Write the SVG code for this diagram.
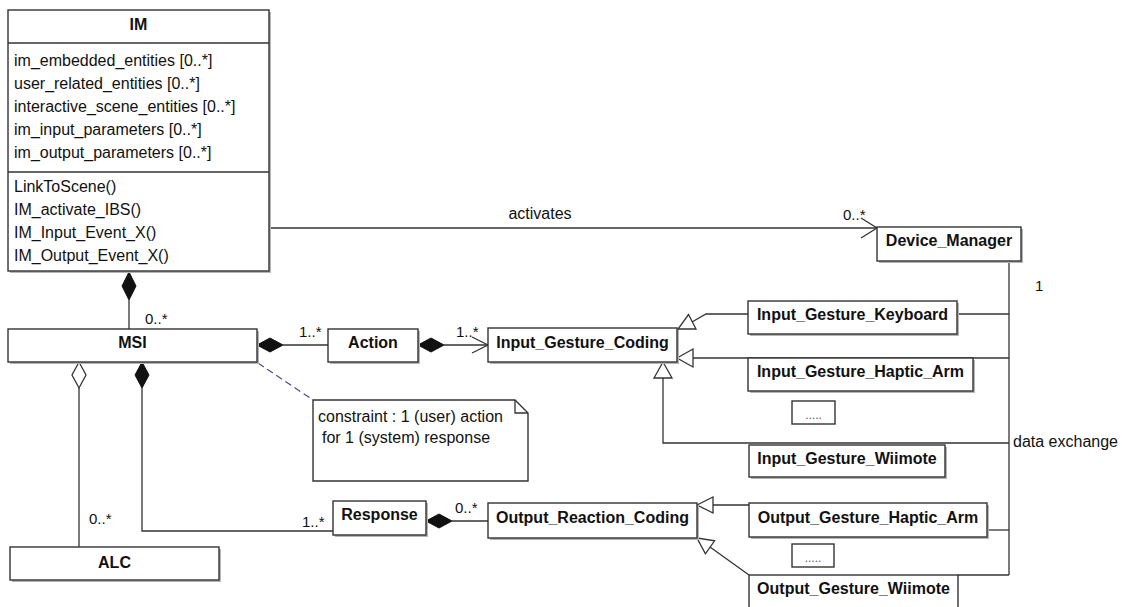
<svg xmlns="http://www.w3.org/2000/svg" width="1122" height="607" viewBox="0 0 1122 607">
<style>
text{font-family:"Liberation Sans",Arial,sans-serif;fill:#111}
.t{font-size:16px}
.b{font-size:16px;font-weight:bold}
.m{font-size:15px}
.sm{font-size:12px;fill:#555}
.box{fill:#fff;stroke:#333;stroke-width:1.4}
.sh{fill:#b5b5b5}
.ln{fill:none;stroke:#333;stroke-width:1.3}
.fd{fill:#111;stroke:#111;stroke-width:1}
.hd{fill:#fff;stroke:#333;stroke-width:1.3}
.dash{fill:none;stroke:#4a4a90;stroke-width:1.2;stroke-dasharray:7 4}
</style>
<rect width="1122" height="607" fill="#fff"/>

<g id="connectors">
  <line class="ln" x1="269" y1="228" x2="877" y2="228"/>
  <polyline class="ln" points="861,218 877,228 861,238"/>
  <line class="ln" x1="129" y1="300" x2="129" y2="329"/>
  <polygon class="fd" points="129,272 136,286 129,300 122,286"/>
  <line class="ln" x1="283" y1="345" x2="328" y2="345"/>
  <polygon class="fd" points="257,345 270,338 283,345 270,352"/>
  <line class="ln" x1="444" y1="345" x2="488" y2="345"/>
  <polygon class="fd" points="418,345 431,338 444,345 431,352"/>
  <polyline class="ln" points="472,337 488,345 472,353"/>
  <line class="ln" x1="79" y1="388" x2="79" y2="547"/>
  <polygon class="hd" points="79,362 86,375 79,388 72,375"/>
  <polyline class="ln" points="142,388 142,531 333,531"/>
  <polygon class="fd" points="142,362 149,375 142,388 135,375"/>
  <line class="ln" x1="452" y1="521" x2="488" y2="521"/>
  <polygon class="fd" points="426,521 439,514 452,521 439,528"/>
  <line class="dash" x1="258" y1="363" x2="313" y2="400"/>
  <polyline class="ln" points="748,314 706,314 692,322"/>
  <polygon class="hd" points="678,329 696,329 688.5,314.5"/>
  <line class="ln" x1="693" y1="358" x2="1009" y2="358"/>
  <polygon class="hd" points="677,358 693,349 693,367"/>
  <polyline class="ln" points="663,378 663,443 1009,443"/>
  <polygon class="hd" points="663,362 654,378 672,378"/>
  <line class="ln" x1="713" y1="505" x2="749" y2="505"/>
  <polygon class="hd" points="697,505 713,497 713,513"/>
  <line class="ln" x1="749" y1="575" x2="710" y2="547"/>
  <polygon class="hd" points="697,538 714.6,540.8 705.4,553.8"/>
  <line class="ln" x1="1009" y1="261" x2="1009" y2="575"/>
  <line class="ln" x1="957" y1="314" x2="1009" y2="314"/>
  <line class="ln" x1="987" y1="530" x2="1009" y2="530"/>
  <line class="ln" x1="958" y1="575" x2="1009" y2="575"/>
  <text class="t" x="540" y="219" text-anchor="middle">activates</text>
  <text class="m" x="843" y="220">0..*</text>
  <text class="m" x="1035" y="291">1</text>
  <text class="t" x="1013" y="447">data exchange</text>
  <text class="m" x="145" y="324">0..*</text>
  <text class="m" x="299" y="337">1..*</text>
  <text class="m" x="456" y="337">1..*</text>
  <text class="m" x="89" y="524">0..*</text>
  <text class="m" x="302" y="527">1..*</text>
  <text class="m" x="455" y="513">0..*</text>
</g>

<g id="IM">
  <rect class="sh" x="10" y="12" width="261" height="261"/>
  <rect class="box" x="8" y="10" width="261" height="261"/>
  <line class="ln" x1="8" y1="43" x2="269" y2="43"/>
  <line class="ln" x1="8" y1="172" x2="269" y2="172"/>
  <text class="b" x="138.5" y="30" text-anchor="middle">IM</text>
  <text class="t" x="14" y="66">im_embedded_entities [0..*]</text>
  <text class="t" x="14" y="89">user_related_entities [0..*]</text>
  <text class="t" x="14" y="112">interactive_scene_entities [0..*]</text>
  <text class="t" x="14" y="135">im_input_parameters [0..*]</text>
  <text class="t" x="14" y="158">im_output_parameters [0..*]</text>
  <text class="t" x="14" y="192">LinkToScene()</text>
  <text class="t" x="14" y="215">IM_activate_IBS()</text>
  <text class="t" x="14" y="238">IM_Input_Event_X()</text>
  <text class="t" x="14" y="261">IM_Output_Event_X()</text>
</g>

<g id="MSI">
  <rect class="sh" x="10" y="331" width="249" height="33"/>
  <rect class="box" x="8" y="329" width="249" height="33"/>
  <text class="b" x="132.5" y="348" text-anchor="middle">MSI</text>
</g>

<g id="ALC">
  <rect class="sh" x="12" y="549" width="209" height="33"/>
  <rect class="box" x="10" y="547" width="209" height="33"/>
  <text class="b" x="114.5" y="568" text-anchor="middle">ALC</text>
</g>

<g id="Action">
  <rect class="sh" x="330" y="331" width="90" height="33"/>
  <rect class="box" x="328" y="329" width="90" height="33"/>
  <text class="b" x="373" y="348" text-anchor="middle">Action</text>
</g>

<g id="Input_Gesture_Coding">
  <rect class="sh" x="490" y="330" width="189" height="34"/>
  <rect class="box" x="488" y="328" width="189" height="34"/>
  <text class="b" x="582.5" y="348" text-anchor="middle">Input_Gesture_Coding</text>
</g>

<g id="Note">
  <path class="box" d="M313,400 L515,400 L528,413 L528,481 L313,481 Z"/>
  <polyline class="ln" points="515,400 515,413 528,413"/>
  <text class="t" x="318" y="422">constraint : 1 (user) action</text>
  <text class="t" x="322" y="443">for 1 (system) response</text>
</g>

<g id="Device_Manager">
  <rect class="sh" x="879" y="229" width="144" height="34"/>
  <rect class="box" x="877" y="227" width="144" height="34"/>
  <text class="b" x="949" y="246" text-anchor="middle">Device_Manager</text>
</g>

<g id="Input_Gesture_Keyboard">
  <rect class="sh" x="750" y="303" width="209" height="33"/>
  <rect class="box" x="748" y="301" width="209" height="33"/>
  <text class="b" x="852.5" y="320" text-anchor="middle">Input_Gesture_Keyboard</text>
</g>

<g id="Input_Gesture_Haptic_Arm">
  <rect class="sh" x="750" y="360" width="225" height="33"/>
  <rect class="box" x="748" y="358" width="225" height="33"/>
  <text class="b" x="860.5" y="377" text-anchor="middle">Input_Gesture_Haptic_Arm</text>
</g>

<g id="Input_Ellipsis">
  <rect class="box" x="792" y="401" width="43" height="23"/>
  <text class="sm" x="813.5" y="419" text-anchor="middle">.....</text>
</g>

<g id="Input_Gesture_Wiimote">
  <rect class="sh" x="751" y="447" width="196" height="32"/>
  <rect class="box" x="749" y="445" width="196" height="32"/>
  <text class="b" x="847" y="464" text-anchor="middle">Input_Gesture_Wiimote</text>
</g>

<g id="Response">
  <rect class="sh" x="335" y="503" width="93" height="34"/>
  <rect class="box" x="333" y="501" width="93" height="34"/>
  <text class="b" x="379.5" y="520" text-anchor="middle">Response</text>
</g>

<g id="Output_Reaction_Coding">
  <rect class="sh" x="490" y="505" width="209" height="35"/>
  <rect class="box" x="488" y="503" width="209" height="35"/>
  <text class="b" x="592.5" y="523" text-anchor="middle">Output_Reaction_Coding</text>
</g>

<g id="Output_Gesture_Haptic_Arm">
  <rect class="sh" x="751" y="505" width="238" height="34"/>
  <rect class="box" x="749" y="503" width="238" height="34"/>
  <text class="b" x="868" y="523" text-anchor="middle">Output_Gesture_Haptic_Arm</text>
</g>

<g id="Output_Ellipsis">
  <rect class="box" x="792" y="544" width="42" height="23"/>
  <text class="sm" x="813" y="562" text-anchor="middle">.....</text>
</g>

<g id="Output_Gesture_Wiimote">
  <rect class="box" x="749" y="575" width="209" height="40"/>
  <text class="b" x="853.5" y="594" text-anchor="middle">Output_Gesture_Wiimote</text>
</g>
</svg>
